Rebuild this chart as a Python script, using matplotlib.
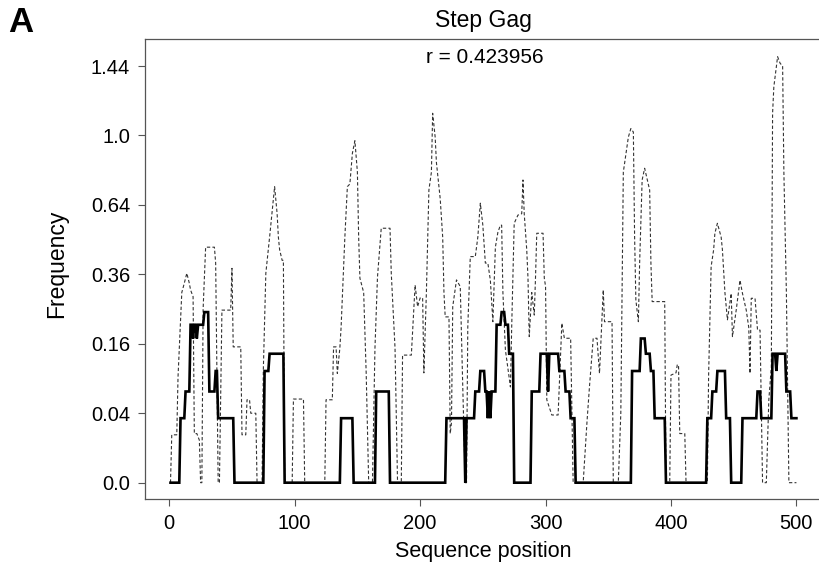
import numpy as np
import matplotlib
matplotlib.use("Agg")
import matplotlib.pyplot as plt

plt.rcParams['font.family'] = ['Liberation Sans', 'DejaVu Sans']

# observed (solid) line: vertices as position / count out of 29
obs_pos = [1, 8, 9, 12, 13, 16, 17, 18, 19, 20, 21, 22, 23, 27, 28, 31, 32, 36, 37, 38, 39, 51, 52,
           75, 76, 79, 80, 91, 92, 136, 137, 146, 147, 164, 165, 175, 176, 220, 221, 235, 236, 237,
           243, 244, 247, 248, 251, 252, 253, 254, 255, 256, 257, 260, 261, 264, 265, 267, 268, 270,
           271, 274, 275, 288, 289, 295, 296, 301, 302, 303, 310, 311, 315, 316, 319, 320, 323, 324,
           368, 369, 375, 376, 379, 380, 383, 384, 386, 387, 395, 396, 428, 429, 432, 433, 436, 437,
           443, 444, 447, 448, 456, 457, 468, 469, 471, 472, 480, 481, 483, 484, 485, 491, 492, 495,
           496, 500]
obs_count = [0, 0, 1, 1, 2, 2, 6, 6, 5, 6, 6, 5, 6, 6, 7, 7, 2, 2, 3, 3, 1, 1, 0,
             0, 3, 3, 4, 4, 0, 0, 1, 1, 0, 0, 2, 2, 0, 0, 1, 1, 0, 1,
             1, 2, 2, 3, 3, 2, 2, 1, 2, 1, 2, 2, 6, 6, 7, 7, 6, 6,
             4, 4, 0, 0, 2, 2, 4, 4, 2, 4, 4, 3, 3, 2, 2, 1, 1, 0,
             0, 3, 3, 5, 5, 4, 4, 3, 3, 1, 1, 0, 0, 1, 1, 2, 2, 3,
             3, 1, 1, 0, 0, 1, 1, 2, 2, 1, 1, 4, 4, 3, 4, 4, 2, 2,
             1, 1]
n_seq = 29

# predicted (dashed) line: vertices as position / frequency
pred_pos = [1, 2, 6, 7, 10, 12, 14, 16, 17, 19, 20, 22, 24, 25, 26, 27, 29, 36, 37, 39, 40, 42, 49, 50,
            51, 57, 58, 61, 62, 64, 65, 69, 70, 74, 75, 77, 80, 84, 86, 87, 88, 90, 91, 92, 98, 99,
            107, 108, 124, 125, 130, 131, 133, 134, 136, 137, 140, 142, 144, 146, 148, 150, 151, 152,
            155, 157, 159, 162, 164, 166, 169, 176, 177, 180, 182, 185, 186, 193, 196, 198, 200, 202,
            203, 205, 207, 209, 210, 212, 213, 216, 218, 219, 220, 223, 224, 225, 226, 229, 232, 234,
            236, 237, 238, 240, 244, 246, 248, 250, 252, 254, 256, 258, 260, 262, 264, 265, 266, 268,
            272, 273, 275, 278, 281, 282, 283, 285, 286, 287, 289, 291, 292, 293, 298, 299, 300, 301,
            305, 310, 313, 315, 320, 322, 330, 333, 335, 338, 341, 343, 346, 347, 353, 354, 358, 360,
            361, 362, 366, 368, 370, 371, 372, 374, 375, 377, 379, 383, 384, 385, 395, 396, 399, 400,
            404, 405, 406, 407, 411, 412, 429, 430, 432, 434, 435, 437, 440, 441, 443, 445, 448, 449,
            452, 455, 457, 460, 462, 463, 464, 467, 469, 471, 473, 476, 478, 480, 481, 482, 485, 487,
            489, 490, 492, 494, 500]
pred_freq = [0, 0.019, 0.019, 0.093, 0.30, 0.33, 0.364, 0.33, 0.308, 0.287, 0.02, 0.02, 0.015, 0, 0,
             0.25, 0.46, 0.46, 0.40, 0, 0, 0.247, 0.247, 0.381,
             0.153, 0.153, 0.019, 0.019, 0.057, 0.057, 0.04, 0.04, 0, 0, 0.105, 0.364, 0.50, 0.727,
             0.60, 0.50, 0.45, 0.41, 0.41, 0, 0, 0.058,
             0.058, 0, 0, 0.057, 0.057, 0.153, 0.153, 0.099, 0.15, 0.20, 0.50, 0.727, 0.74, 0.90,
             0.97, 0.80, 0.50, 0.347,
             0.30, 0.10, 0, 0, 0.15, 0.35, 0.537, 0.537, 0.364, 0.15, 0, 0, 0.135, 0.135, 0.324,
             0.257, 0.283, 0.283,
             0.10, 0.30, 0.71, 0.80, 1.132, 0.99, 0.85, 0.67, 0.50, 0.30, 0.228, 0.228, 0.02, 0.03,
             0.257, 0.341, 0.319, 0.076,
             0, 0, 0.20, 0.424, 0.424, 0.50, 0.648, 0.55, 0.40, 0.40, 0.34, 0.215, 0.46, 0.52, 0.55,
             0.55, 0.30, 0.146,
             0.076, 0.20, 0.558, 0.594, 0.60, 0.76, 0.60, 0.45, 0.347, 0.177, 0.30, 0.233, 0.35,
             0.516, 0.516, 0.347, 0.32, 0.057,
             0.038, 0.038, 0.211, 0.173, 0.173, 0, 0, 0.03, 0.076, 0.173, 0.173, 0.099, 0.308, 0.215,
             0.215, 0, 0, 0.04,
             0.30, 0.80, 0.99, 1.04, 1.02, 0.50, 0.277, 0.215, 0.40, 0.76, 0.82, 0.71, 0.40, 0.272,
             0.272, 0, 0, 0.096,
             0.10, 0.115, 0.115, 0.02, 0.02, 0, 0, 0.096, 0.387, 0.45, 0.516, 0.558, 0.50, 0.45, 0.30,
             0.22, 0.297, 0.177,
             0.247, 0.34, 0.297, 0.247, 0.20, 0.099, 0.282, 0.282, 0.193, 0.193, 0, 0, 0.057, 0.111,
             1.132, 1.30, 1.505, 1.459,
             1.44, 0.80, 0.30, 0, 0]

ytick_vals = [0.0, 0.04, 0.16, 0.36, 0.64, 1.0, 1.44]
ytick_labels = ["0.0", "0.04", "0.16", "0.36", "0.64", "1.0", "1.44"]
xtick_vals = [0, 100, 200, 300, 400, 500]

fig = plt.figure(figsize=(8.19, 5.71), dpi=100)
ax = fig.add_axes([0.1774, 0.1261, 0.8252, 0.8051])

obs = np.array(obs_count) / n_seq
ax.plot(pred_pos, np.sqrt(pred_freq), color='#333333', lw=0.8, linestyle=(0, (3, 2)))
ax.plot(obs_pos, np.sqrt(obs), color='black', lw=1.9, solid_joinstyle='miter')

ax.set_xlim(-19.1, 519.7)
ax.set_ylim(-0.047, 1.277)
ax.set_yticks(np.sqrt(ytick_vals))
ax.set_yticklabels(ytick_labels)
ax.set_xticks(xtick_vals)
ax.tick_params(axis='both', direction='out', length=5, width=0.8, color='#555555',
               labelsize=14.5, pad=6)
for s in ax.spines.values():
    s.set_color('#555555')
    s.set_linewidth(0.9)

ax.set_title("Step Gag", fontsize=16.5, pad=9)
ax.text(0.503, 0.948, "r = 0.423956", transform=ax.transAxes, ha='center', va='baseline',
        fontsize=15)
ax.set_xlabel("Sequence position", fontsize=15.5)
ax.xaxis.set_label_coords(0.5, -0.091)
ax.set_ylabel("Frequency", fontsize=16.5)
ax.yaxis.set_label_coords(-0.114, 0.512)
fig.text(0.0098, 0.944, "A", fontsize=25, fontweight='bold', va='baseline', ha='left')

fig.savefig("out.png", dpi=100)
